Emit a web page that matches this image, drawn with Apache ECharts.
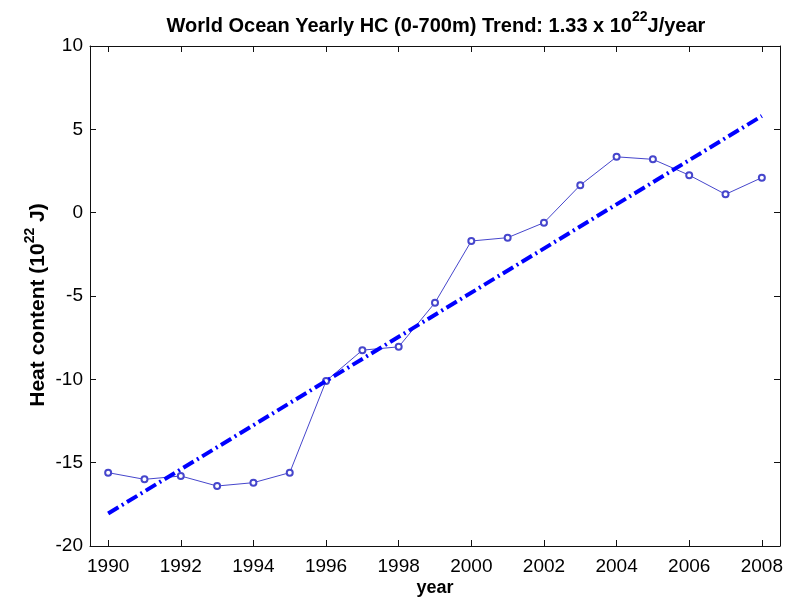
<!DOCTYPE html>
<html>
<head>
<meta charset="utf-8">
<script src="https://cdn.jsdelivr.net/npm/echarts@6/dist/echarts.min.js"></script>
<style>
html,body{margin:0;padding:0;background:#fff;}
#chart{width:790px;height:598px;}
</style>
</head>
<body>
<div id="chart"></div>
<script>
// Data
var years = [1990,1991,1992,1993,1994,1995,1996,1997,1998,1999,2000,2001,2002,2003,2004,2005,2006,2007,2008];
var heatContent = [-15.6,-16.0,-15.8,-16.4,-16.2,-15.6,-10.1,-8.25,-8.05,-5.4,-1.7,-1.5,-0.6,1.65,3.35,3.2,2.25,1.1,2.1];
var trendYears = [1990, 2008];
var trendValues = [-18.05, 5.8];
var xTicks = [1990,1992,1994,1996,1998,2000,2002,2004,2006,2008];
var yTicks = [-20,-15,-10,-5,0,5,10];

var FONT = '"Liberation Sans", Arial, sans-serif';
var chart = echarts.init(document.getElementById('chart'), null, {renderer:'canvas'});

function pairs(xs, ys){ return xs.map(function(x,i){ return [x, ys[i]]; }); }

var axisLineStyle = {show:true, onZero:false, lineStyle:{color:'#111', width:1}};
function ticks(extra){ return Object.assign({show:true, inside:true, length:6, lineStyle:{color:'#111', width:1}}, extra||{}); }

var option = {
  backgroundColor:'#fff',
  animation:false,
  title:{
    text:'{a|World Ocean Yearly HC (0-700m) Trend: 1.33 x 10}{s|22}{a|J/year}',
    left:431, textAlign:'center', top:5,
    textStyle:{
      fontFamily:FONT, fontWeight:'bold', fontSize:20,
      rich:{
        a:{fontFamily:FONT, fontWeight:'bold', fontSize:20, color:'#000', verticalAlign:'bottom', lineHeight:26},
        s:{fontFamily:FONT, fontWeight:'bold', fontSize:14, color:'#000', verticalAlign:'top', lineHeight:16}
      }
    }
  },
  grid:{left:90, top:46, right:10, bottom:52, containLabel:false, outerBoundsMode:'none'},
  xAxis:[{
    type:'value', min:1989.5, max:2008.5, position:'bottom',
    axisLine:axisLineStyle,
    axisTick:ticks({customValues:xTicks}),
    axisLabel:{customValues:xTicks, formatter:function(v){return String(v);}, fontFamily:FONT, fontSize:19, color:'#000', margin:11},
    splitLine:{show:false},
    name:'year', nameLocation:'middle', nameGap:33, nameMoveOverlap:false,
    nameTextStyle:{fontFamily:FONT, fontWeight:'bold', fontSize:18, color:'#000'}
  },{
    type:'value', min:1989.5, max:2008.5, position:'top',
    axisLine:axisLineStyle,
    axisTick:ticks({customValues:xTicks}),
    axisLabel:{show:false},
    splitLine:{show:false}
  }],
  yAxis:[{
    type:'value', min:-20, max:10, interval:5, position:'left',
    axisLine:axisLineStyle,
    axisTick:ticks(),
    axisLabel:{customValues:yTicks, formatter:function(v){return String(v);}, fontFamily:FONT, fontSize:19, color:'#000', margin:7},
    splitLine:{show:false},
    name:'{a|Heat content (10}{s|22}{a| J)}', nameLocation:'middle', nameGap:41, nameRotate:90, nameMoveOverlap:false,
    nameTextStyle:{
      fontFamily:FONT, fontWeight:'bold', fontSize:21, padding:[0,18,0,0],
      rich:{
        a:{fontFamily:FONT, fontWeight:'bold', fontSize:21, color:'#000', verticalAlign:'bottom', lineHeight:26},
        s:{fontFamily:FONT, fontWeight:'bold', fontSize:14, color:'#000', verticalAlign:'top', lineHeight:16}
      }
    }
  },{
    type:'value', min:-20, max:10, interval:5, position:'right',
    axisLine:axisLineStyle,
    axisTick:ticks(),
    axisLabel:{show:false},
    splitLine:{show:false}
  }],
  series:[{
    type:'line',
    data:pairs(years, heatContent),
    xAxisIndex:0, yAxisIndex:0,
    symbol:'emptyCircle', symbolSize:6,
    lineStyle:{color:'#4646cc', width:1},
    itemStyle:{color:'#4646cc', borderColor:'#4646cc', borderWidth:1},
    z:2
  },{
    type:'line',
    data:pairs(trendYears, trendValues),
    xAxisIndex:0, yAxisIndex:0,
    symbol:'none',
    lineStyle:{color:'#0000ff', width:4, type:[12,4,2,4], cap:'butt'},
    z:3
  }]
};
chart.setOption(option);
</script>
</body>
</html>
